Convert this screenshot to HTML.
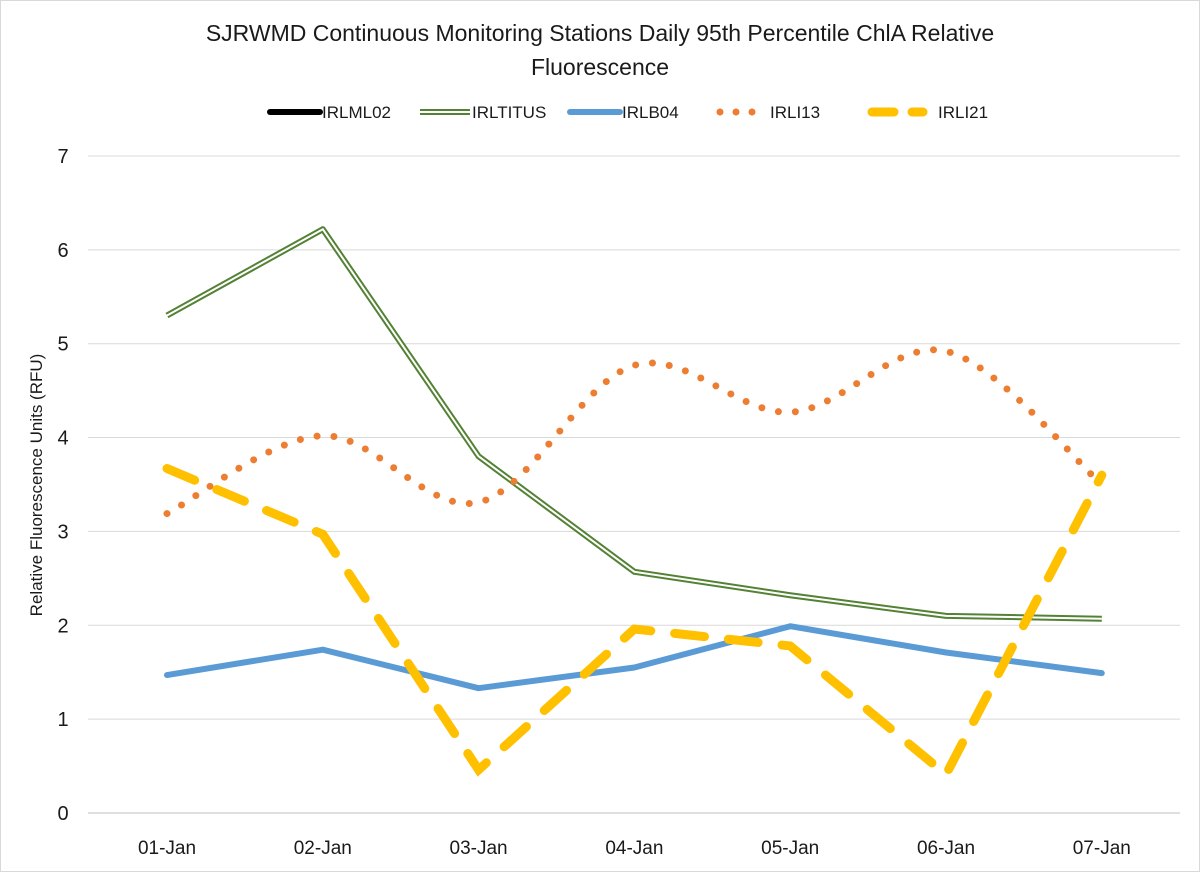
<!DOCTYPE html>
<html><head><meta charset="utf-8"><style>
body{margin:0;background:#fff;}
svg text{font-family:"Liberation Sans",sans-serif;fill:#1a1a1a;}
</style></head><body>
<svg width="1200" height="872" xmlns="http://www.w3.org/2000/svg">
<rect x="0.5" y="0.5" width="1199" height="871" fill="#fff" stroke="#d9d9d9"/>
<text x="600" y="41" text-anchor="middle" font-size="23">SJRWMD Continuous Monitoring Stations Daily 95th Percentile ChlA Relative</text>
<text x="600" y="75" text-anchor="middle" font-size="23">Fluorescence</text>
<g id="grid"></g><g id="axes"></g><g id="series"></g><g id="legend"></g>
<text transform="translate(42,485) rotate(-90)" text-anchor="middle" font-size="17">Relative Fluorescence Units (RFU)</text>
</svg>
<script>
const categories=["01-Jan","02-Jan","03-Jan","04-Jan","05-Jan","06-Jan","07-Jan"];
const yTicks=[0,1,2,3,4,5,6,7];
const irlml02=[];
const irltitus=[5.3,6.22,3.8,2.57,2.32,2.1,2.07];
const irlb04=[1.47,1.74,1.33,1.55,1.99,1.71,1.49];
const irli13=[3.19,4.02,3.31,4.77,4.27,4.92,3.5];
const irli21=[3.67,2.97,0.46,1.96,1.78,0.41,3.6];
const NS="http://www.w3.org/2000/svg";
const X=i=>167+i*155.8;
const Y=v=>813-v*93.86;
function mk(t,a,p){const e=document.createElementNS(NS,t);for(const k in a)e.setAttribute(k,a[k]);p.appendChild(e);return e;}
const grid=document.getElementById('grid'),axes=document.getElementById('axes'),ser=document.getElementById('series'),leg=document.getElementById('legend');
yTicks.forEach(t=>{
 const l=mk('line',{x1:88,x2:1180,y1:Y(t),y2:Y(t),stroke:t==0?'#bfbfbf':'#d9d9d9','stroke-width':1},grid);
 
 
 const tx=mk('text',{x:63,y:Y(t)+7,'text-anchor':'middle','font-size':20},axes);tx.textContent=t;
 
 
});
categories.forEach((c,i)=>{
 const tx=mk('text',{x:X(i),y:854,'text-anchor':'middle','font-size':19},axes);tx.textContent=c;
 
 
});
function lin(d){return d.map((v,i)=>(i?'L':'M')+X(i)+' '+Y(v)).join(' ');}
function smooth(d){let p='M'+X(0)+' '+Y(d[0]);
 for(let i=0;i<d.length-1;i++){
  const p0=[X(Math.max(i-1,0)),Y(d[Math.max(i-1,0)])],p1=[X(i),Y(d[i])],p2=[X(i+1),Y(d[i+1])],p3=[X(Math.min(i+2,d.length-1)),Y(d[Math.min(i+2,d.length-1)])];
  const t=1/6;
  p+=` C${p1[0]+(p2[0]-p0[0])*t} ${p1[1]+(p2[1]-p0[1])*t} ${p2[0]-(p3[0]-p1[0])*t} ${p2[1]-(p3[1]-p1[1])*t} ${p2[0]} ${p2[1]}`;}
 return p;}
let e;
e=mk('path',{d:lin(irltitus),fill:'none',stroke:'#548235','stroke-width':6,'stroke-linejoin':'round'},ser);


e=mk('path',{d:lin(irltitus),fill:'none',stroke:'#fff','stroke-width':2,'stroke-linejoin':'round'},ser);


e=mk('path',{d:lin(irlb04),fill:'none',stroke:'#5b9bd5','stroke-width':6,'stroke-linejoin':'round','stroke-linecap':'round'},ser);


e=mk('path',{d:smooth(irli13),fill:'none',stroke:'#ed7d31','stroke-width':7,'stroke-dasharray':'0 17','stroke-linecap':'round'},ser);


e=mk('path',{d:lin(irli21),fill:'none',stroke:'#ffc000','stroke-width':9,'stroke-dasharray':'30 24','stroke-linecap':'round'},ser);


const L=[["IRLML02",270,'ml'],["IRLTITUS",420,'ti'],["IRLB04",570,'b'],["IRLI13",718,'13'],["IRLI21",868,'21']];
L.forEach(([n,x,k])=>{
 const g=mk('g',{},leg);
 
 
 const y=112;
 if(k=='ml')mk('line',{x1:x,x2:x+50,y1:y,y2:y,stroke:'#000','stroke-width':6,'stroke-linecap':'round'},g);
 if(k=='ti'){mk('line',{x1:x,x2:x+50,y1:y,y2:y,stroke:'#548235','stroke-width':6},g);mk('line',{x1:x,x2:x+50,y1:y,y2:y,stroke:'#fff','stroke-width':2},g);}
 if(k=='b')mk('line',{x1:x,x2:x+50,y1:y,y2:y,stroke:'#5b9bd5','stroke-width':6,'stroke-linecap':'round'},g);
 if(k=='13')mk('line',{x1:x+2,x2:x+50,y1:y,y2:y,stroke:'#ed7d31','stroke-width':7,'stroke-dasharray':'0 16','stroke-linecap':'round'},g);
 if(k=='21')mk('line',{x1:x+4,x2:x+55,y1:y,y2:y,stroke:'#ffc000','stroke-width':9,'stroke-dasharray':'22 18','stroke-linecap':'round'},g);
 const t=mk('text',{x:x+(k=='21'?70:52),y:y+6,'font-size':17},g);t.textContent=n;
});
</script>
</body></html>
